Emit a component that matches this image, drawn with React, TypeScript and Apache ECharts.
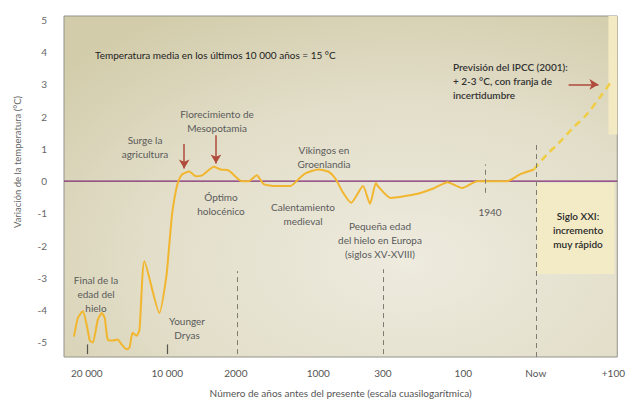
import React, { useEffect, useRef } from "react";
import * as echarts from "echarts";

// Quasi-logarithmic position axis (0..100 across the plot)
const xTickValues = [4.13, 18.67, 31.06, 45.96, 57.63, 72.17, 85.28, 99.3];
const xTickLabels = ["20 000", "10 000", "2000", "1000", "300", "100", "Now", "+100"];
const yTickValues = [-5, -4, -3, -2, -1, 0, 1, 2, 3, 4, 5];

// Temperature anomaly (°C) reconstructed curve: [position, value]
const tempX = [
  1.8, 2.51, 3.41, 4.13, 4.67, 5.21, 6.1, 6.82, 7.36, 7.9, 8.8, 9.69, 10.41, 11.31, 11.85,
  12.39, 13.11, 13.64, 14.54, 17.24, 18.49, 19.03, 19.57, 20.29, 20.83, 21.36, 22.62, 23.88,
  24.96, 27.11, 28.37, 29.8, 32.14, 33.39, 34.83, 36.09, 38.24, 40.93, 42.37, 43.63, 45.96,
  47.76, 49.01, 50.45, 51.89, 54.04, 55.3, 56.37, 56.73, 59.07, 63.91, 66.97, 69.3, 71.99,
  74.69, 80.07, 82.41, 84.92,
];
const tempY = [
  -4.82, -4.24, -4.03, -4.48, -4.94, -5.0, -4.3, -4.09, -4.24, -4.91, -4.94, -4.91, -5.06,
  -5.21, -5.15, -4.7, -4.79, -4.61, -2.48, -4.09, -2.97, -1.97, -0.97, -0.24, 0.06, 0.21, 0.3,
  0.15, 0.18, 0.45, 0.36, 0.33, 0.0, 0.0, 0.18, -0.09, -0.15, -0.15, 0.06, 0.24, 0.36, 0.3,
  0.09, -0.36, -0.67, -0.15, -0.7, -0.06, -0.15, -0.52, -0.39, -0.21, -0.03, -0.21, 0.0, 0.0,
  0.21, 0.36,
];

// IPCC (2001) projection
const projX = [84.92, 87.25, 89.59, 92.1, 94.43, 96.77, 98.92];
const projY = [0.36, 0.82, 1.21, 1.67, 2.06, 2.58, 3.09];

// Reference positions
const dashedRefs = [
  { x: 31.24, y0: -5.36, y1: -2.79 },
  { x: 57.63, y0: -5.36, y1: -2.73 },
  { x: 76.12, y0: -0.36, y1: 0.52 },
  { x: 85.28, y0: -5.45, y1: 1.15 },
];
const solidTicks = [4.13, 18.67];

const Y_MIN = -5.45;
const Y_MAX = 5.12;

const FONT = "Lato, 'Open Sans', sans-serif";

export default function App() {
  const ref = useRef<HTMLDivElement>(null);

  useEffect(() => {
    if (!ref.current) return;
    const chart = echarts.init(ref.current, undefined, { renderer: "svg" });

    const tempData = tempX.map((x, i) => [x, tempY[i]]);
    const projData = projX.map((x, i) => [x, projY[i]]);

    const annColor = "#5a5a5a";
    const txt = (text: string, x: number, y: number, extra: any = {}) => ({
      type: "text",
      x,
      y,
      z: 10,
      style: {
        text,
        fill: annColor,
        fontSize: 10,
        fontFamily: FONT,
        align: "center",
        verticalAlign: "middle",
        lineHeight: 14,
        ...extra,
      },
    });

    const arrowColor = "#b04a3c";

    chart.setOption({
      animation: false,
      grid: {
        left: 64,
        right: 7,
        top: 16,
        bottom: 38,
        show: true,
        borderColor: "#94938a",
        borderWidth: 1,
        backgroundColor: {
          type: "radial",
          x: 0.62,
          y: 0.72,
          r: 0.85,
          colorStops: [
            { offset: 0, color: "#eeebdf" },
            { offset: 0.55, color: "#e2dec9" },
            { offset: 1, color: "#d2ccaa" },
          ],
        },
      },
      xAxis: {
        type: "value",
        min: 0,
        max: 100,
        name: "Número de años antes del presente (escala cuasilogarítmica)",
        nameLocation: "middle",
        nameGap: 31,
        nameTextStyle: { color: "#555", fontSize: 10, fontFamily: FONT },
        axisLine: { show: false },
        axisTick: { show: false },
        splitLine: { show: false },
        axisLabel: {
          customValues: xTickValues,
          color: "#555",
          fontSize: 10,
          fontFamily: FONT,
          margin: 11,
          formatter: (v: number) => {
            const i = xTickValues.findIndex((t) => Math.abs(t - v) < 0.01);
            return i >= 0 ? xTickLabels[i] : "";
          },
        },
      },
      yAxis: {
        type: "value",
        min: Y_MIN,
        max: Y_MAX,
        axisLine: { show: false },
        axisTick: { show: false },
        splitLine: { show: false },
        axisLabel: {
          customValues: yTickValues,
          color: "#666",
          fontSize: 10,
          fontFamily: FONT,
          margin: 17,
        },
      },
      series: [
        {
          type: "line",
          name: "zero",
          data: [
            [0, 0],
            [100, 0],
          ],
          symbol: "none",
          z: 1,
          lineStyle: { color: "#7f2b73", width: 1.2 },
          markArea: {
            silent: true,
            data: [
              [
                { coord: [98.4, 1.45], itemStyle: { color: "#f3eac3" } },
                { coord: [100, Y_MAX] },
              ],
              [
                { coord: [85.46, -0.06], itemStyle: { color: "#f3ebc6" } },
                { coord: [99.46, -2.88] },
              ],
            ],
          },
          markLine: {
            silent: true,
            symbol: ["none", "none"],
            label: { show: false },
            data: [
              ...dashedRefs.map((d) => [
                { coord: [d.x, d.y0], lineStyle: { color: "#7d7d74", width: 1, type: [5, 4] } },
                { coord: [d.x, d.y1] },
              ]),
              ...solidTicks.map((x) => [
                { coord: [x, -5.36], lineStyle: { color: "#55554d", width: 1.2, type: "solid" } },
                { coord: [x, -5.06] },
              ]),
            ],
          },
        },
        {
          type: "line",
          name: "temperatura",
          data: tempData,
          symbol: "none",
          smooth: 0.2,
          z: 3,
          lineStyle: { color: "#f2b62e", width: 2 },
          markLine: {
            silent: true,
            symbol: ["none", "arrow"],
            symbolSize: [8, 9],
            label: { show: false },
            lineStyle: { color: arrowColor, width: 1.5, type: "solid" },
            data: [
              [{ coord: [21.72, 1.15] }, { coord: [21.72, 0.39] }],
              [{ coord: [27.47, 1.42] }, { coord: [27.47, 0.55] }],
              [{ coord: [91.2, 3.0] }, { coord: [96.6, 3.0] }],
            ],
          },
        },
        {
          type: "line",
          name: "IPCC",
          data: projData,
          symbol: "none",
          smooth: 0.3,
          z: 3,
          lineStyle: { color: "#f0cd45", width: 2.5, type: [7, 5] },
        },
      ],
      graphic: [
        {
          type: "text",
          x: 17,
          y: 162,
          rotation: Math.PI / 2,
          style: {
            text: "Variación de la temperatura (°C)",
            fill: "#666",
            fontSize: 9.5,
            fontFamily: FONT,
            align: "center",
            verticalAlign: "middle",
          },
        },
        txt("Temperatura media en los últimos 10 000 años = 15 °C", 95, 55, {
          align: "left",
          fill: "#222",
        }),
        txt("Previsión del IPCC (2001):\n+ 2-3 °C, con franja de\nincertidumbre", 453, 81, {
          align: "left",
          fill: "#333",
          fontWeight: 600,
        }),
        txt("Surge la\nagricultura", 145, 147),
        txt("Florecimiento de\nMesopotamia", 217, 121),
        txt("Óptimo\nholocénico", 221, 204),
        txt("Vikingos en\nGroenlandia", 324, 157),
        txt("Calentamiento\nmedieval", 303, 214),
        txt("Pequeña edad\ndel hielo en Europa\n(siglos XV-XVIII)", 380, 240),
        txt("1940", 490, 212),
        txt("Siglo XXI:\nincremento\nmuy rápido", 578, 230, { fill: "#2a2a2a", fontWeight: 600 }),
        txt("Final de la\nedad del\nhielo", 96, 294),
        txt("Younger\nDryas", 187, 328),
      ],
    });

    return () => chart.dispose();
  }, []);

  return (
    <div
      ref={ref}
      style={{ position: "fixed", left: 0, top: 0, width: 628, height: 403, background: "#fff" }}
    />
  );
}
